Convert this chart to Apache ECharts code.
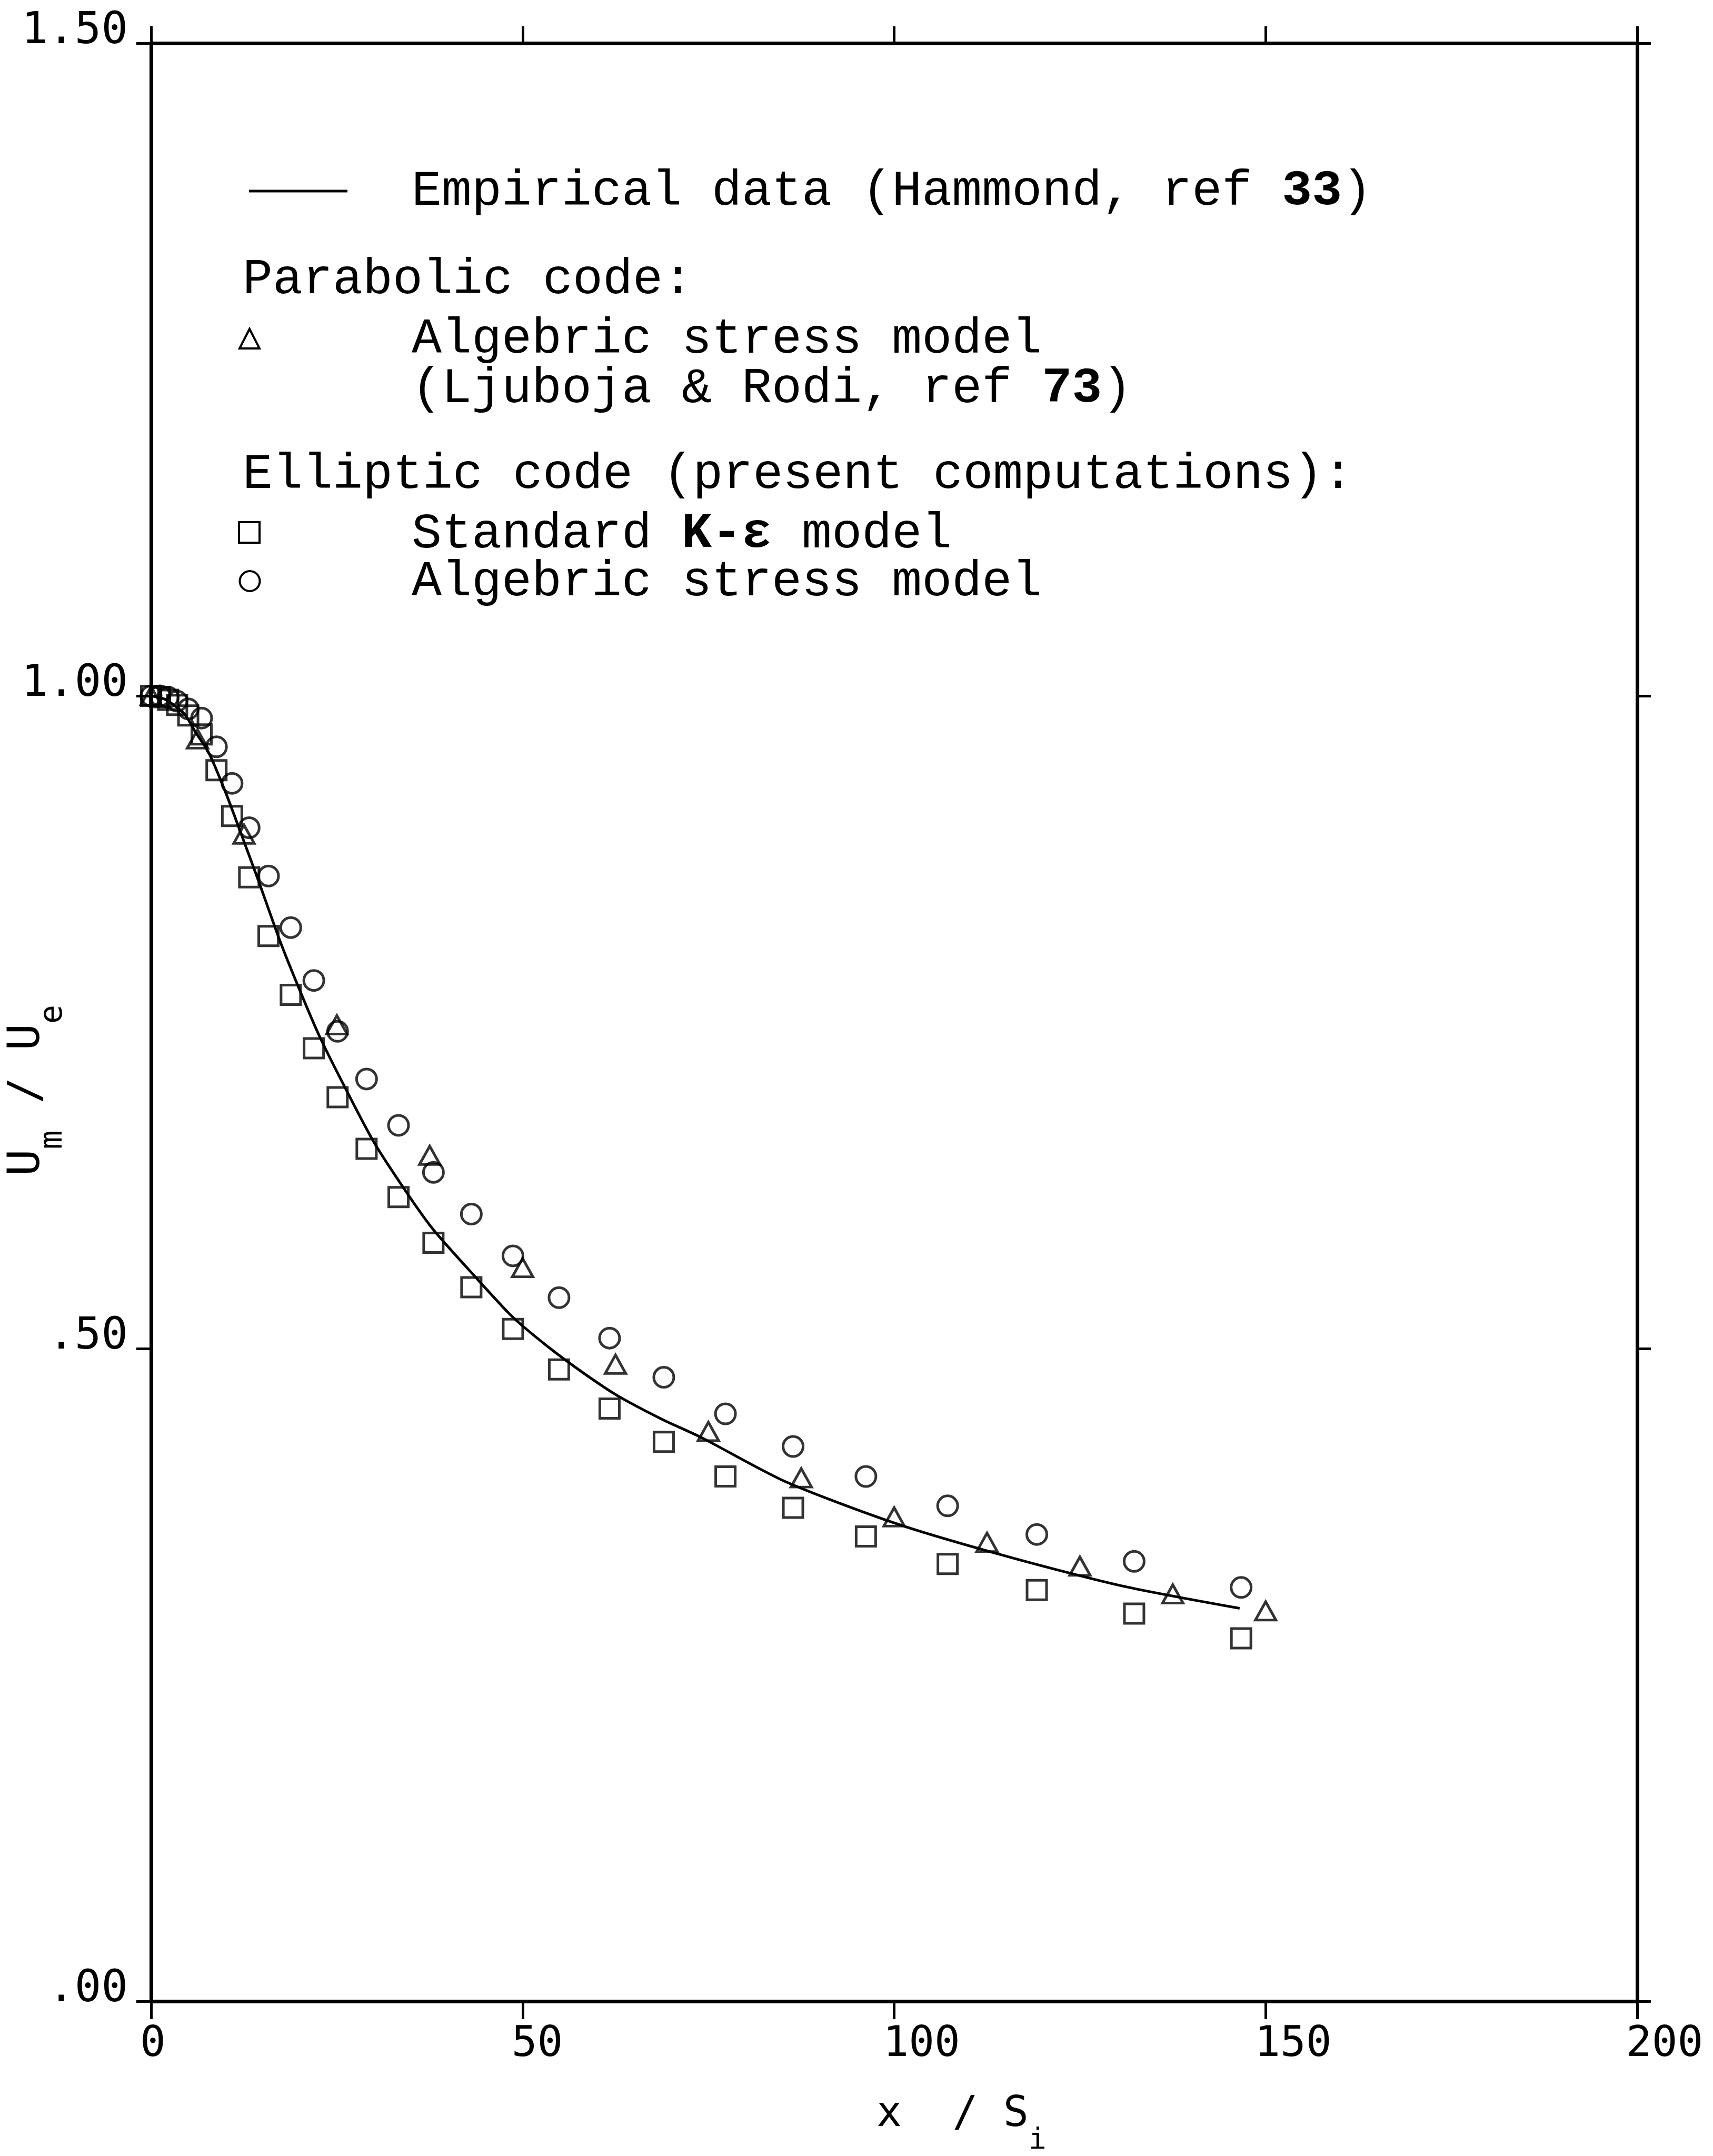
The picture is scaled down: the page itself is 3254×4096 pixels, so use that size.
<!DOCTYPE html>
<html>
<head>
<meta charset="utf-8">
<script src="https://cdn.jsdelivr.net/npm/echarts@6/dist/echarts.min.js"></script>
<style>
html,body{margin:0;padding:0;background:#fff;}
#chart{width:3254px;height:4096px;}
</style>
</head>
<body>
<div id="chart"></div>
<script>
// ---- data ----
const xTickLabels = ['0', '50', '100', '150', '200'];
const yTickLabels = ['.00', '.50', '1.00', '1.50'];

// Empirical data (Hammond, ref 33) - solid line
const empX = [0, 2, 4.5, 6, 7.8, 10.1, 12.4, 14.6, 17.3, 19.9, 22.6, 25.6, 30, 34.7, 38, 43.3, 48.6, 53.5, 58.1, 62.6, 68.7, 74, 85.4, 100.5, 115.7, 130.8, 146.5];
const empY = [1.0, 0.997, 0.986, 0.972, 0.956, 0.925, 0.890, 0.856, 0.813, 0.776, 0.740, 0.7055, 0.658, 0.617, 0.591, 0.557, 0.5245, 0.501, 0.4816, 0.4645, 0.446, 0.432, 0.398, 0.3655, 0.340, 0.318, 0.301];

// Parabolic code: algebraic stress model (triangles)
const triX = [0, 6.25, 12.5, 25, 37.5, 50, 62.5, 75, 87.5, 100, 112.5, 125, 137.5, 150];
const triY = [1.0, 0.967, 0.894, 0.748, 0.648, 0.562, 0.488, 0.4365, 0.401, 0.371, 0.3516, 0.3333, 0.312, 0.299];

// Elliptic code: common x stations
const ellX = [0, 1.2, 2.3, 3.5, 5.0, 6.8, 8.8, 10.9, 13.2, 15.8, 18.8, 21.9, 25.1, 29.0, 33.3, 38.0, 43.1, 48.7, 54.9, 61.7, 69.0, 77.3, 86.4, 96.2, 107.2, 119.2, 132.3, 146.7];
// Standard k-epsilon model (squares)
const keY = [1.0, 0.999, 0.997, 0.993, 0.985, 0.9705, 0.943, 0.908, 0.861, 0.816, 0.771, 0.730, 0.6925, 0.653, 0.616, 0.581, 0.547, 0.515, 0.484, 0.454, 0.4285, 0.402, 0.378, 0.356, 0.335, 0.315, 0.297, 0.278];
// Algebraic stress model (circles)
const asmY = [1.0, 1.0, 0.999, 0.996, 0.990, 0.983, 0.961, 0.933, 0.899, 0.862, 0.8225, 0.782, 0.743, 0.7065, 0.671, 0.635, 0.603, 0.571, 0.539, 0.508, 0.478, 0.450, 0.425, 0.402, 0.3795, 0.3576, 0.337, 0.317];

function zip(a, b) { return a.map((v, i) => [v, b[i]]); }

const chart = echarts.init(document.getElementById('chart'), null, {renderer: 'canvas'});

const LEG = 'Liberation Mono';
const MONO = 'DejaVu Sans Mono';
const LEGSIZE = 95;
const legStyle = (text, rich) => ({
  text: text,
  fontFamily: LEG, fontSize: LEGSIZE, fill: '#000',
  align: 'left', verticalAlign: 'middle',
  rich: rich || {}
});
const boldRich = {b: {fontFamily: LEG, fontSize: LEGSIZE, fontWeight: 'bold', fill: '#000'}};

const frameLine = {show: true, onZero: false, lineStyle: {color: '#000', width: 7}};
const markerStyle = {color: 'rgba(0,0,0,0)', borderColor: '#000', borderWidth: 5};

const option = {
  backgroundColor: '#fff',
  animation: false,
  grid: {left: 287, right: 144, top: 82, bottom: 294, containLabel: false},
  xAxis: [
    {
      type: 'value', min: 0, max: 200, interval: 50, position: 'bottom',
      axisLine: frameLine,
      axisTick: {show: true, inside: false, length: 34, lineStyle: {color: '#000', width: 5}},
      axisLabel: {
        show: true, margin: 42, color: '#000', fontFamily: MONO, fontSize: 81, lineHeight: 81,
        align: 'left', padding: [0, 0, 0, -21],
        formatter: (v, i) => xTickLabels[i]
      },
      splitLine: {show: false}
    },
    {
      type: 'value', min: 0, max: 200, interval: 50, position: 'top',
      axisLine: frameLine,
      axisTick: {show: true, inside: false, length: 32, lineStyle: {color: '#000', width: 5}},
      axisLabel: {show: false},
      splitLine: {show: false}
    }
  ],
  yAxis: [
    {
      type: 'value', min: 0, max: 1.5, interval: 0.5, position: 'left',
      axisLine: frameLine,
      axisTick: {show: true, inside: false, length: 28, lineStyle: {color: '#000', width: 5}},
      axisLabel: {
        show: true, margin: 44, color: '#000', fontFamily: MONO, fontSize: 84, lineHeight: 44,
        verticalAlign: 'bottom',
        formatter: (v, i) => yTickLabels[i]
      },
      splitLine: {show: false}
    },
    {
      type: 'value', min: 0, max: 1.5, interval: 0.5, position: 'right',
      axisLine: frameLine,
      axisTick: {show: true, inside: false, length: 26, lineStyle: {color: '#000', width: 5}},
      axisLabel: {show: false},
      splitLine: {show: false}
    }
  ],
  series: [
    {
      name: 'Empirical data', type: 'line', xAxisIndex: 0, yAxisIndex: 0,
      data: zip(empX, empY), symbol: 'none', smooth: 0.25,
      lineStyle: {color: '#000', width: 5}, silent: true, z: 2
    },
    {
      name: 'Standard k-e model', type: 'scatter', xAxisIndex: 0, yAxisIndex: 0,
      data: zip(ellX, keY), symbol: 'rect', symbolSize: 37,
      itemStyle: markerStyle, silent: true, z: 3
    },
    {
      name: 'Algebric stress model (elliptic)', type: 'scatter', xAxisIndex: 0, yAxisIndex: 0,
      data: zip(ellX, asmY), symbol: 'circle', symbolSize: 38,
      itemStyle: markerStyle, silent: true, z: 3
    },
    {
      name: 'Algebric stress model (parabolic)', type: 'scatter', xAxisIndex: 0, yAxisIndex: 0,
      data: zip(triX, triY), symbol: 'triangle', symbolSize: [39, 35],
      itemStyle: markerStyle, silent: true, z: 4
    }
  ],
  graphic: [
    // legend
    {type: 'line', shape: {x1: 473, y1: 363, x2: 660, y2: 363}, style: {stroke: '#000', lineWidth: 5}},
    {type: 'text', x: 782, y: 364, style: legStyle('Empirical data (Hammond, ref {b|33})', boldRich)},
    {type: 'text', x: 461, y: 532, style: legStyle('Parabolic code:')},
    {type: 'polygon', shape: {points: [[455, 662], [474, 625], [493, 662]]}, style: {fill: 'none', stroke: '#000', lineWidth: 4}},
    {type: 'text', x: 782, y: 645, style: legStyle('Algebric stress model')},
    {type: 'text', x: 782, y: 739, style: legStyle('(Ljuboja & Rodi, ref {b|73})', boldRich)},
    {type: 'text', x: 461, y: 902, style: legStyle('Elliptic code (present computations):')},
    {type: 'rect', shape: {x: 454, y: 992, width: 39, height: 39}, style: {fill: 'none', stroke: '#000', lineWidth: 4}},
    {type: 'text', x: 782, y: 1015, style: legStyle('Standard {b|K-ε} model', boldRich)},
    {type: 'circle', shape: {cx: 474.5, cy: 1104, r: 19}, style: {fill: 'none', stroke: '#000', lineWidth: 4}},
    {type: 'text', x: 782, y: 1106, style: legStyle('Algebric stress model')},
    // y axis title
    {
      type: 'text', x: 10, y: 2234, rotation: Math.PI / 2,
      style: {
        text: '{u|U}{s|m}{u| / U}{s|e}', align: 'left', verticalAlign: 'top',
        rich: {
          u: {fontFamily: MONO, fontSize: 84, lineHeight: 84, verticalAlign: 'top', fill: '#000'},
          s: {fontFamily: MONO, fontSize: 60, lineHeight: 182, verticalAlign: 'middle', fill: '#000'}
        }
      }
    },
    // x axis title
    {
      type: 'text', x: 1665, y: 3978,
      style: {
        text: '{n|x  / S}{s|i}', align: 'left', verticalAlign: 'top',
        rich: {
          n: {fontFamily: MONO, fontSize: 80, lineHeight: 80, verticalAlign: 'top', fill: '#000'},
          s: {fontFamily: MONO, fontSize: 56, lineHeight: 179, verticalAlign: 'middle', fill: '#000'}
        }
      }
    }
  ]
};
chart.setOption(option);
</script>
</body>
</html>
